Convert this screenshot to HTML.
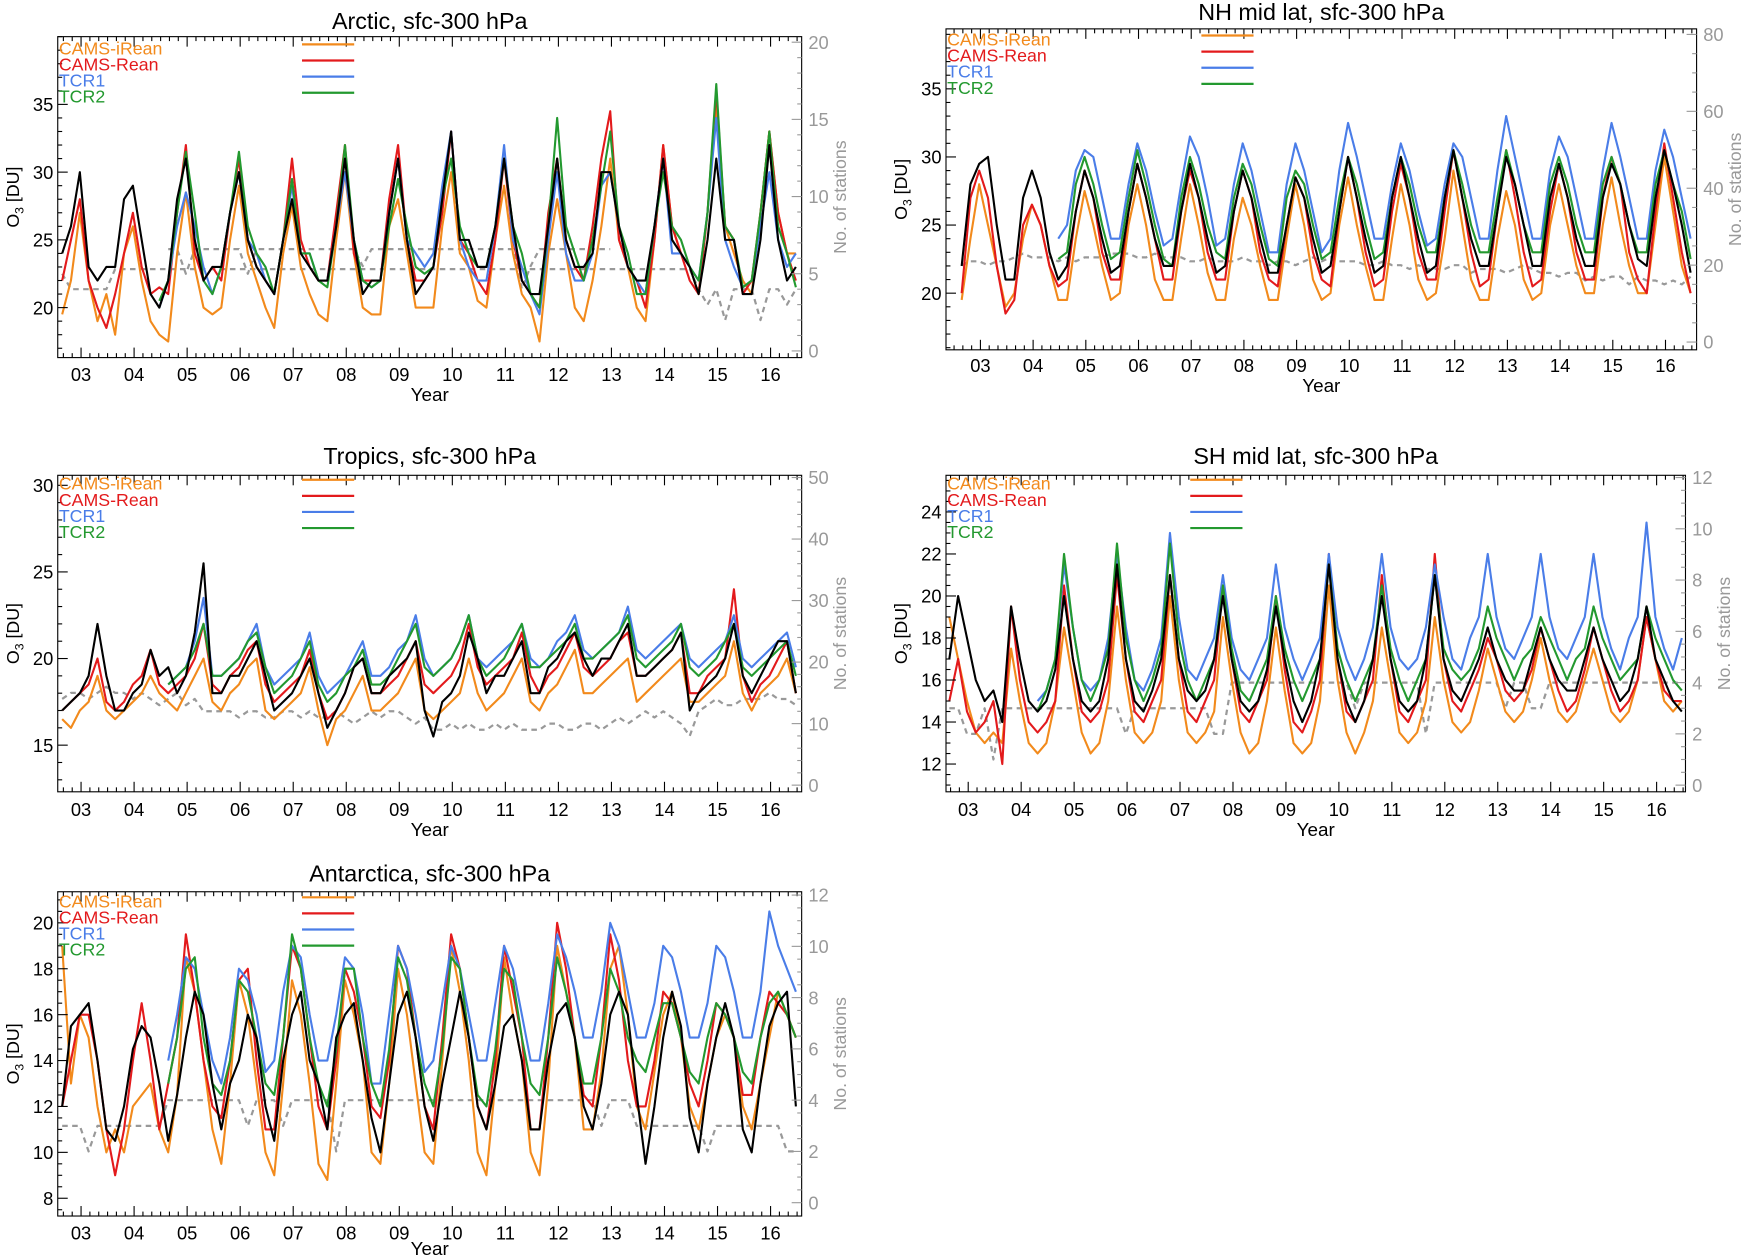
<!DOCTYPE html>
<html><head><meta charset="utf-8"><style>
html,body{margin:0;padding:0;background:#fff}
svg{display:block;font-family:"Liberation Sans",sans-serif}
</style></head><body>
<svg id="chart" width="1741" height="1256" viewBox="0 0 1568 1131" preserveAspectRatio="none" xmlns="http://www.w3.org/2000/svg"></svg>
<script>
// Years shown on x axis
const yearLabels = ["03","04","05","06","07","08","09","10","11","12","13","14","15","16"];
const seriesNames = ["CAMS-iRean","CAMS-Rean","TCR1","TCR2"];
const N = null;
// ---- Arctic ----
const arcObs = [24,26,30,23,22,23, 23,28,29,25,21,20, 22,28,31,25,22,23, 23,27,30,25,23,22, 21,25,28,24,23,22, 22,26,31,25,21,22, 22,27,31,25,21,22, 23,28,33,25,25,23, 23,26,31,26,22,21, 21,26,31,25,23,23, 24,30,30,26,23,22, 22,26,31,25,24,23, 21,25,31,25,25,21, 21,25,32,25,22,23];
const arcIRean = [19.5,22,27,22,19,21, 18,24,26,22,19,18, 17.5,24,28.5,23,20,19.5, 20,25,29,24,22,20, 18.5,24,27.5,23,21,19.5, 19,25,30,24,20,19.5, 19.5,26,28,24,20,20, 20,26,30,24,23,20.5, 20,25,29,24,21,20, 17.5,24,28,24,20,19, 22,26,31,25,23,20, 19,25,32,26,24,23, 21,27,35,26,24,22, 21,27,33,27,24,24];
const arcRean = [22,25,28,22,20,18.5, 21,24,27,23,21,21.5, 21,27,32,24,22,23, 22,27,31,25,23,22, 21,25,31,25,23,22, 22,27,32,24,22,22, 22,28,32,25,22,22, 23,27,33,25,24,22, 21,25,31,25,22,21, 20,27,31,25,23,22, 26,31,34.5,25,23,22, 20,25,32,26,24,22, 21,27,36,26,25,21, 22,27,33,27,24,22];
const arcTCR1 = [N,N,N,N,N,N, N,N,N,N,N,20, 22,26,28.5,26,23,21, 23,27,30,25,24,22, 21,25,29,24,24,22, 22,26,30,25,22,21.5, 22,27,31,25,24,23, 24,29,33,25,23,22, 22,26,32,25,23,21, 19.5,25,30,24,22,22, 24,29,30,26,23,22, 21,26,31,24,24,23, 22,27,34,25,23,21.5, 22,26,30,25,23,24];
const arcTCR2 = [N,N,N,N,N,N, N,N,N,N,N,20.5, 22,27,31.5,27,22,21, 23,27,31.5,26,24,23, 21,25,29.5,24,24,22, 21.5,26,32,25,22,21.5, 22,26,29.5,26,23,22.5, 23,28,31,26,24,23, 23,26,31,26,24,21, 20,26,34,26,24,22, 25,29,33,26,24,21, 21,26,30,26,25,23, 22,27,36.5,26,25,21.5, 22,27,33,26,24,21.5];
const arcStA = [5,4,4,4,4,4, 5.3,5.3,5.3,5.3,5.3,5.3, 5.3,5.3,5.3,5.3,5.3,5.3, 5.3,5.3,5.3,5.3,5.3,5.3, 5.3,5.3,5.3,5.3,5.3,5.3, 5.3,5.3,5.3,5.3,5.3,5.3, 5.3,5.3,5.3,5.3,5.3,5.3, 5.3,5.3,5.3,5.3,5.3,5.3, 5.3,5.3,5.3,5.3,5.3,5.3, 5.3,5.3,5.3,5.3,5.3,5.3, 5.3,5.3,5.3,5.3,5.3,5.3, 5.3,5.3,5.3,5.3,5.3,5.3, 4,3,4,2,4,4, 4,2,4,4,3,4];
const arcStB = [N,N,N,N,N,N, N,N,N,N,N,N, 6.6,6.6,5,6.6,6.6,6.6, 6.6,6.6,6.6,5,6.6,6.6, 6.6,6.6,6.6,6.6,6.6,6.6, 6.6,6.6,6.6,6.6,5.5,6.6, 6.6,6.6,6.6,6.6,6.6,6.6, 6.6,6.6,6.6,6.6,6.6,6.6, 6.6,6.6,6.6,6.6,4,5.5, 6.6,6.6,6.6,6.6,6.6,6.6, 6.6,6.6,6.6,N,N,N, N,N,N,N,N,N, N,N,N,N,N,N, N,N,N,N,N,N];
// ---- NH mid lat ----
const nhObs = [22,28,29.5,30,25,21, 21,27,29,27,23,21, 22,26,29,27,24,21.5, 22,26,29.5,27,24,22, 22,26,29.5,27,24,21.5, 22,26,29,27,24,21.5, 21.5,25,28.5,27,24,21.5, 22,26,30,27,24,21.5, 22,27,30,27,24,21.5, 22,27,30.5,27,24,22, 22,26,30,28,25,22, 22,27,29.5,27,24,22, 22,27,29.5,28,25,22.5, 22,27,30.5,28,25,21.5];
const nhIRean = [19.5,24,28,25,22,19, 20,24,26.5,25,22,19.5, 19.5,24,27.5,25,22,19.5, 20,25,28,25,21,19.5, 19.5,24,28,25,21.5,19.5, 19.5,24,27,25,22,19.5, 19.5,24,28,25,21,19.5, 20,25,28.5,25,22,19.5, 19.5,24,28,25,21,19.5, 20,24,29,25,21,19.5, 19.5,24,27.5,25,21,19.5, 20,25,28,25,22,20, 20,25,28.5,25,22,20, 20,25,30,26,22,20];
const nhRean = [20,27,29,27,22,18.5, 19.5,25,26.5,25,22,20.5, 21,26,29,27,23,21, 21,26,29.5,27,24,21, 21,26,29,27,23,21, 21,26,29,27,23,21, 20.5,25,28.5,27,23,21, 20.5,26,30,27,23,20.5, 21,26,29.5,27,23,21, 21,26,30.5,27,23,20.5, 21,26,30.5,27,23,20.5, 21,26,29.5,27,23,21, 21,27,30,28,23,21, 20,26,31,27,23,20];
const nhTCR1 = [N,N,N,N,N,N, N,N,N,N,N,24, 25,29,30.5,30,27,24, 24,28,31,29,26,23.5, 24,28,31.5,30,27,23.5, 24,28,31,29,26,23, 23,28,31,29,26,23, 24,29,32.5,30,27,24, 24,28,31,29,26,23.5, 24,28,31,30,27,24, 24,29,33,30,27,24, 24,29,31.5,30,27,24, 24,29,32.5,30,27,24, 24,29,32,30,27,24];
const nhTCR2 = [N,N,N,N,N,N, N,N,N,N,N,22.5, 23,28,30,28,25,22.5, 23,27,30.5,28,25,22.5, 22,27,30,28,25,23, 22.5,27,29.5,28,25,22.5, 22,27,29,28,25,22.5, 23,27,30,28,25,22.5, 23,27,30,28,25,23, 23,27,30.5,28,25,23, 23,27,30.5,28,25,23, 23,28,30,28,25,23, 23,28,30,28,25,23, 23,28,30.5,28,26,22.5];
const nhSt = [20,21,21,20,21,21, 22,23,22,22,22,21, 22,21,22,22,22,23, 23,23,22,22,23,22, 22,22,21,21,22,21, 21,21,22,21,21,20, 21,21,20,21,22,21, 22,21,21,21,20,20, 21,20,20,19,20,19, 19,19,20,20,18,19, 19,19,18,19,20,19, 18,18,17,18,18,16, 17,16,17,17,15,17, 16,16,15,16,15,17];
// ---- Tropics ----
const trObs = [17,17.5,18,19,22,19, 17,17,18,18.5,20.5,19, 19.5,18,19,21.5,25.5,18, 18,19,19,20,21,19, 17,17.5,18,19,20,18, 16,17,18,19.5,20,18, 18,19,19.5,20,21,17, 15.5,17.5,18,19,21.5,20, 18,19,19,20,21,18, 18,19.5,20,21,21.5,20, 19,20,20,21,22,19, 19,19.5,20,20.5,21.5,17, 18,18.5,19,20,22,19, 18,19,20,21,21,18];
const trIRean = [16.5,16,17,17.5,19,17, 16.5,17,17.5,18,19,18, 17.5,17,18,19,20,17.5, 17,18,18.5,19.5,20,17, 16.5,17,17.5,18,19.5,17, 15,16.5,17,18,19,17, 17,17.5,18,19,20,17, 16.5,17,17.5,18,20,18, 17,17.5,18,19,20,17.5, 17,18,18.5,19.5,20.5,18, 18,18.5,19,19.5,20,17.5, 18,18.5,19,19.5,20,17.5, 17.5,18,18.5,19,21,18, 17,18,18.5,19,20,18];
const trRean = [17,17.5,18,18.5,20,17.5, 17,17.5,18.5,19,20.5,18.5, 18,18.5,19,20,22,18.5, 18,19,19.5,20.5,21,18.5, 17.5,18,18.5,19,20.5,18, 16.5,17,18,19.5,20,18, 18,18.5,19,20,21,18.5, 18,18.5,19,20,22,19.5, 18.5,19,19.5,20,21.5,19, 18,19,19.5,20.5,21.5,19.5, 19,19.5,20,21,21.5,19, 19,19.5,20,20.5,21.5,18, 18,19,19.5,20,24,19, 17.5,18.5,19,20,21,18];
const trTCR1 = [N,N,N,N,N,N, N,N,N,N,N,N, 18.5,19,19.5,21,23.5,19, 19,19.5,20,21,22,19.5, 18.5,19,19.5,20,21.5,19, 18,18.5,19,20,21,19, 19,19.5,20.5,21,22.5,20, 19,19.5,20,21,22.5,20, 19.5,20,20.5,21,22,20, 19.5,20,21,21.5,22.5,20.5, 20,20.5,21,21.5,23,20.5, 20,20.5,21,21.5,22,20, 19.5,20,20.5,21,22.5,20, 19.5,20,20.5,21,21.5,19.5];
const trTCR2 = [N,N,N,N,N,N, N,N,N,N,N,N, 18.5,19,19.5,20.5,22,19, 19,19.5,20,21,21.5,19.5, 18,18.5,19,20,21,18.5, 17.5,18,19,19.5,20.5,18.5, 18.5,19,20,21,22,19.5, 19,19.5,20,21,22.5,20, 19,19.5,20,21,22,19.5, 19.5,20,20.5,21,22,20, 20,20.5,21,21.5,22.5,20, 19.5,20,20.5,21,22,19.5, 19,19.5,20,21,22,19.5, 19,19.5,20,20.5,21,19];
const trSt = [14,15,15,14,15,16, 15,15,14,15,14,13, 14,15,13,14,12,12, 12,12,11,12,12,11, 11,12,12,11,12,11, 11,12,11,10,11,12, 11,12,12,11,10,11, 9,9,10,9,10,9, 9,10,9,10,9,9, 9,10,10,9,9,10, 10,9,10,11,10,11, 12,11,12,11,10,8, 12,13,14,13,13,14, 14,14,15,14,14,13];
// ---- SH mid lat ----
const shObs = [17,20,18,16,15,15.5, 14,19.5,17,15,14.5,15, 16.5,20,17,15,14.5,15, 17,21.5,17,15,14.5,15.5, 17,21,17,15.5,15,15.5, 17,20,17,15,14.5,15, 16.5,19.5,17,15,14,15, 17,21.5,17,15,14,15, 17,20,17,15,14.5,15, 17,21,17,15.5,15,16, 17,18.5,17,16,15.5,15.5, 17,18.5,17,16,15.5,15.5, 17,18.5,17,16,15,15.5, 17,19.5,17,16,15,14.5];
const shIRean = [19,17,15,13.5,13,13.5, 13,17.5,15,13,12.5,13, 15,18.5,16,13.5,12.5,13, 15,19.5,16,13.5,13,13.5, 15,20,16,13.5,13,13.5, 14.5,19,16,13.5,12.5,13, 15,18.5,15.5,13,12.5,13, 15,20.5,16,13.5,12.5,13.5, 15,18.5,16,13.5,13,13.5, 15,19,16,14,13.5,14, 15.5,17.5,16,14.5,14,14.5, 16,18,16,14.5,14,14.5, 16,17.5,16,14.5,14,14.5, 16,19,17,15,14.5,15];
const shRean = [15,17,14.5,13.5,14,15, 12,19.5,16,14,13.5,14, 15,20.5,17,14.5,14,14.5, 16,21,17,14.5,14,15, 16,21,17,14.5,14,15, 16,20.5,17,14.5,14,15, 16,20,16.5,14,13.5,14.5, 16,22,17,14.5,14,15, 16,21,17,14.5,14,15, 16,22,17,15,14.5,15.5, 16.5,18,17,15.5,15,15.5, 16.5,18.5,17,15.5,14.5,15, 16.5,18.5,17,15.5,14.5,15, 16,19,17,15.5,15,15];
const shTCR1 = [N,N,N,N,N,N, N,N,N,N,15,15.5, 17,21.5,18.5,16,15.5,16, 18,22,18.5,16,15.5,16.5, 18,23,19,16.5,16,17, 18,21,18,16.5,16,17, 18,21.5,18.5,17,16,17, 18,22,18.5,17,16,17, 18.5,22,18.5,17,16.5,17, 18.5,21.5,19,17,16.5,18, 19,22,19,17.5,17,18, 19,22,19,17.5,17,18, 19,22,19,17.5,16.5,18, 19,23.5,19,17.5,16.5,18];
const shTCR2 = [N,N,N,N,N,N, N,N,N,N,14.5,15.5, 17,22,18.5,16,15,16, 17.5,22.5,18,16,15,16, 17.5,22.5,18,16,15,16, 17,20.5,17.5,15.5,15,16, 17,20,17.5,16,15,16, 17,21.5,17.5,16,15,16, 17,20.5,17.5,16,15,16, 17,21,17.5,16.5,16,16.5, 17.5,19.5,18,17,16,17, 17.5,19,18,17,16,17, 17.5,19.5,18,17,16,16.5, 17,19.5,18,17,16,15.5];
const shSt = [3,3,2,2,3,1, 3,3,3,3,3,3, 3,3,3,3,3,3, 3,3,2,3,3,3, 3,3,3,3,3,3, 2,2,4,4,4,4, 4,4,4,4,4,4, 4,4,4,4,3,4, 4,4,4,4,4,4, 2,4,4,4,4,4, 4,4,4,3,4,4, 3,3,4,4,4,4, 4,4,4,4,4,4, 4,4,4,4,4,4];
// ---- Antarctica ----
const anObs = [12,15.5,16,16.5,14,11, 10.5,12,14.5,15.5,15,13, 10.5,12.5,15,17,16,13, 11,13,14,16,15,12, 10.5,14,16,17,14,13, 11,15,16,16.5,14,11.5, 10,13,16,17,15,12, 10.5,13,15,17,15,12, 11,13,15.5,16,14,11, 11,14,16,16.5,15,12, 11,13,16,17,16,12.5, 9.5,12,15,17,15.5,11.5, 10,13,15,16.5,15,11, 10,13,15.5,16.5,17,12];
const anIRean = [19,13,16,15,12,10, 11,10,12,12.5,13,11, 10,12.5,18.5,17,14,11, 9.5,13,17.5,16,13,10, 9,13,17.5,16,13,9.5, 8.8,13,17.5,16,14,10, 9.5,13,18,16,13,10, 9.5,14,19,17,14,10, 9,13,18.5,16,14,10, 9,13,19,17,15,11, 11,13.5,18,19,16,12, 11,13.5,16,17,15,12, 11,13,15,16,15,12, 11,13,15,17,16,15];
const anRean = [12,14,16,16,14,11, 9,11,14,16.5,14,11, 13,15,19.5,17,14,12, 11.5,14,17.5,18,14,11, 11,15,19,18,15,12, 11,14,18,17,15,12, 11.5,14,19,18,15,12, 11,15,19.5,18,15,12, 11,14,19,17,15,11, 11,15,20,18,15,12.5, 12,15,19.5,17.5,14,12, 12,14,17,16.5,15,13, 12,14,16.5,16,15,12.5, 12.5,15,17,16.5,16,15];
const anTCR1 = [N,N,N,N,N,N, N,N,N,N,N,N, 14,16,18.5,18,16,14, 13,15,18,17.5,16,13.5, 14,17,19,18.5,16,14, 14,16,18.5,18,16,13, 13,16,19,18,16,13.5, 14,16.5,19,18,16,14, 14,16.5,19,18,16,14, 14,16.5,19.5,18.5,17,15, 15,17,20,19,17,15, 15,16.5,19,18.5,17,15, 15,16.5,19,18.5,17,15, 15,17,20.5,19,18,17];
const anTCR2 = [N,N,N,N,N,N, N,N,N,N,N,N, 13,15,18,18.5,15,13, 12.5,14,17.5,17,15,13, 12.5,15,19.5,18,15,13, 12,14.5,18,18,15,13, 12,14.5,18.5,17.5,15,13, 12,14.5,18.5,18,15,12.5, 12,14.5,18,17.5,15,13, 12.5,15,18.5,17,15,13, 13,15,18,17,15,14, 13.5,15,16.5,16.5,15,13.5, 13,15,16.5,16,15,13.5, 13,15,16.5,17,16,15];
const anSt = [3,3,3,2,3,3, 3,3,3,3,3,3, 4,4,4,4,4,4, 4,4,4,3,4,4, 4,3,4,4,4,4, 4,2,4,4,4,4, 4,4,4,4,4,4, 4,4,4,4,4,4, 4,4,4,4,4,4, 4,4,4,4,4,4, 4,3,4,4,4,3, 3,3,3,3,3,3, 3,2,3,3,3,3, 3,3,3,3,2,2];

const COLORS = {obs:"#000000", irean:"#f28a1c", rean:"#e31a1c", tcr1:"#4a7de8", tcr2:"#23992f", st:"#999999"};
const svg = document.getElementById('chart');
const NS = "http://www.w3.org/2000/svg";
function mk(tag, attrs, parent){
  const e = document.createElementNS(NS, tag);
  for (const k in attrs) e.setAttribute(k, attrs[k]);
  (parent||svg).appendChild(e);
  return e;
}

const panels = [
 {key:"arctic", title:"Arctic, sfc-300 hPa", titleY:26, x0:52,x1:722,y0:33,y1:322, lab03:73, lab16:694,
  yL:[20,277,35,94], yTicks:[20,25,30,35], yMinor:1, yR:[0,316,20,38], rTicks:[0,5,10,15,20], rMinor:1,
  obs:arcObs, irean:arcIRean, rean:arcRean, tcr1:arcTCR1, tcr2:arcTCR2, st:[arcStA,arcStB], legY:43, legLineX:272, xlabY:343, yearY:361},
 {key:"nh-midlat", title:"NH mid lat, sfc-300 hPa", titleY:18, x0:852,x1:1528,y0:26,y1:315, lab03:883, lab16:1500,
  yL:[20,264,35,80], yTicks:[20,25,30,35], yMinor:1, yR:[0,308,80,31], rTicks:[0,20,40,60,80], rMinor:5,
  obs:nhObs, irean:nhIRean, rean:nhRean, tcr1:nhTCR1, tcr2:nhTCR2, st:[nhSt], legY:35, legLineX:1082, xlabY:335, yearY:353},
 {key:"tropics", title:"Tropics, sfc-300 hPa", titleY:418, x0:52,x1:722,y0:428,y1:713, lab03:73, lab16:694,
  yL:[15,671,30,437], yTicks:[15,20,25,30], yMinor:1, yR:[0,707,50,430], rTicks:[0,10,20,30,40,50], rMinor:2,
  obs:trObs, irean:trIRean, rean:trRean, tcr1:trTCR1, tcr2:trTCR2, st:[trSt], legY:435, legLineX:272, xlabY:735, yearY:753},
 {key:"sh-midlat", title:"SH mid lat, sfc-300 hPa", titleY:418, x0:852,x1:1518,y0:428,y1:713, lab03:872, lab16:1492,
  yL:[12,688,24,461], yTicks:[12,14,16,18,20,22,24], yMinor:0.5, yR:[0,707,12,430], rTicks:[0,2,4,6,8,10,12], rMinor:0.5,
  obs:shObs, irean:shIRean, rean:shRean, tcr1:shTCR1, tcr2:shTCR2, st:[shSt], legY:435, legLineX:1072, xlabY:735, yearY:753},
 {key:"antarctica", title:"Antarctica, sfc-300 hPa", titleY:794, x0:52,x1:722,y0:803,y1:1095, lab03:73, lab16:694,
  yL:[8,1079,20,831], yTicks:[8,10,12,14,16,18,20], yMinor:0.5, yR:[0,1083,12,806], rTicks:[0,2,4,6,8,10,12], rMinor:0.5,
  obs:anObs, irean:anIRean, rean:anRean, tcr1:anTCR1, tcr2:anTCR2, st:[anSt], legY:811, legLineX:272, xlabY:1116, yearY:1130}
];

panels.forEach(p => {
  const g = mk('g', {});
  
  
  const pxYr = (p.lab16 - p.lab03) / 13;
  const xS = t => p.lab03 + (t - 2003) * pxYr;
  const yS = v => p.yL[1] + (v - p.yL[0]) * (p.yL[3] - p.yL[1]) / (p.yL[2] - p.yL[0]);
  const rS = v => p.yR[1] + (v - p.yR[0]) * (p.yR[3] - p.yR[1]) / (p.yR[2] - p.yR[0]);
  const tOf = i => 2002.56 + (i + 0.5) / 6;
  const clip = 'clip-' + p.key;
  const cp = mk('clipPath', {id: clip}, g);
  mk('rect', {x:p.x0, y:p.y0, width:p.x1-p.x0, height:p.y1-p.y0}, cp);

  const t = mk('text', {x:(p.x0+p.x1)/2, y:p.titleY, 'text-anchor':'middle', 'font-size':21, fill:'#000'}, g);
  t.textContent = p.title;
  
  

  function line(vals, scale, color, name, dash, w){
    let d = '', pen = false;
    vals.forEach((v,i) => {
      if (v === null) { pen = false; return; }
      d += (pen ? 'L' : 'M') + xS(tOf(i)).toFixed(1) + ',' + scale(v).toFixed(1);
      pen = true;
    });
    const e = mk('path', {d, fill:'none', stroke:color, 'stroke-width':w||1.9, 'stroke-dasharray':dash||'none', 'clip-path':'url(#'+clip+')', 'stroke-linejoin':'round'}, g);
    
    
  }
  p.st.forEach((s,k) => line(s, rS, COLORS.st, p.key + '-stations-line-' + (k+1), '5,4', 2));
  line(p.irean, yS, COLORS.irean, p.key + '-cams-irean-line');
  line(p.rean, yS, COLORS.rean, p.key + '-cams-rean-line');
  line(p.tcr1, yS, COLORS.tcr1, p.key + '-tcr1-line');
  line(p.tcr2, yS, COLORS.tcr2, p.key + '-tcr2-line');
  line(p.obs, yS, COLORS.obs, p.key + '-observations-line');

  const box = mk('rect', {x:p.x0, y:p.y0, width:p.x1-p.x0, height:p.y1-p.y0, fill:'none', stroke:'#000', 'stroke-width':1}, g);
  
  

  for (let yr = 2002; yr <= 2017; yr++) {
    for (let m = 0; m < 6; m++) {
      const tt = yr + m/6;
      const x = xS(tt);
      if (x < p.x0 || x > p.x1) continue;
      const L = m === 0 ? 9 : 4;
      mk('line', {x1:x, x2:x, y1:p.y1, y2:p.y1-L, stroke:'#000', 'stroke-width':1}, g);
      mk('line', {x1:x, x2:x, y1:p.y0, y2:p.y0+L, stroke:'#000', 'stroke-width':1}, g);
    }
  }
  yearLabels.forEach((lab, i) => {
    const e = mk('text', {x:xS(2003+i), y:p.xlabY, 'text-anchor':'middle', 'font-size':16.5}, g);
    e.textContent = lab;
    
    
  });
  const yt = mk('text', {x:(p.x0+p.x1)/2, y:p.yearY, 'text-anchor':'middle', 'font-size':17}, g);
  yt.textContent = 'Year';
  
  

  for (let v = Math.ceil(Math.min(p.yL[0]-10, 0)); v <= p.yL[2] + 10; v += p.yMinor) {
    const y = yS(v);
    if (y < p.y0 || y > p.y1) continue;
    const major = p.yTicks.includes(Math.round(v*100)/100);
    mk('line', {x1:p.x0, x2:p.x0+(major?9:4), y1:y, y2:y, stroke:'#000', 'stroke-width':1}, g);
  }
  p.yTicks.forEach(v => {
    const e = mk('text', {x:p.x0-4, y:yS(v)+6, 'text-anchor':'end', 'font-size':16.5}, g);
    e.textContent = v;
    
    
  });
  const ylab = mk('text', {transform:'translate('+(p.x0-35)+','+((p.y0+p.y1)/2)+') rotate(-90)', 'text-anchor':'middle', 'font-size':16}, g);
  ylab.innerHTML = 'O<tspan font-size="11" dy="4">3</tspan><tspan dy="-4"> [DU]</tspan>';
  
  

  for (let v = p.yR[0]; v <= p.yR[2] + 0.001; v += p.rMinor) {
    const y = rS(v);
    if (y < p.y0 || y > p.y1) continue;
    const major = p.rTicks.includes(Math.round(v*100)/100);
    mk('line', {x1:p.x1, x2:p.x1-(major?9:4), y1:y, y2:y, stroke:'#999', 'stroke-width':1}, g);
  }
  p.rTicks.forEach(v => {
    const e = mk('text', {x:p.x1+6, y:rS(v)+6, 'text-anchor':'start', 'font-size':16.5, fill:'#999'}, g);
    e.textContent = v;
    
    
  });
  const rlab = mk('text', {transform:'translate('+(p.x1+40)+','+((p.y0+p.y1)/2)+') rotate(-90)', 'text-anchor':'middle', 'font-size':16, fill:'#999'}, g);
  rlab.textContent = 'No. of stations';
  
  

  const cols = [COLORS.irean, COLORS.rean, COLORS.tcr1, COLORS.tcr2];
  seriesNames.forEach((n, i) => {
    const y = p.legY + i*14.5;
    const e = mk('text', {x:p.x0+1, y:y+6, 'font-size':16, fill:cols[i]}, g);
    e.textContent = n;
    
    
    const l = mk('line', {x1:p.legLineX, x2:p.legLineX+47, y1:y-3, y2:y-3, stroke:cols[i], 'stroke-width':2}, g);
    
    
  });
});
</script>
</body></html>
